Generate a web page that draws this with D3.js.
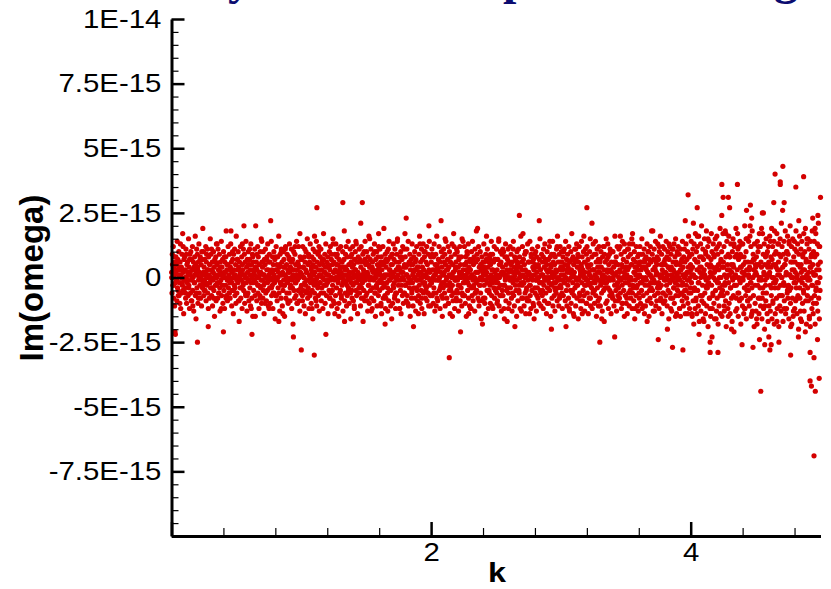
<!DOCTYPE html>
<html>
<head>
<meta charset="utf-8">
<script src="https://cdn.jsdelivr.net/npm/d3@7"></script>
<style>
  body { margin: 0; background: #fff; }
  svg { display: block; }
</style>
</head>
<body>
<div id="chart"></div>
<script>

// Im(omega) values read off the plot, in units of 1E-16, sampled evenly along k
// one list per unit interval of k (first branch)
var imK0 = [
  2,-6,9,0,-3,12,-8,4,1,-11,6,3,-2,8,-1,5,-9,14,-4,7,
  -5,1,10,-7,3,-2,6,13,-12,0,4,-6,9,-3,17,-5,2,-14,7,-1,
  8,-4,3,-8,11,0,-10,5,-2,6,1,-7,15,-3,4,-12,9,2,-6,10,
  -1,7,-9,3,12,-5,0,6,-13,4,-2,8,1,-7,5,-16,2,11,-4,9,
  3,-10,6,-1,13,-6,2,-3,8,-8,0,5,-11,7,1,-4,19,-2,10,-7,
  4,-1,7,-5,2,12,-9,6,0,-3,11,-6,3,-12,8,1,-8,5,-2,15,
  -4,9,0,-7,3,6,-11,2,-1,10,-5,4,-15,7,1,-3,8,-9,13,0,
  5,-2,-8,11,3,-6,1,9,-4,-13,6,2,-1,14,-7,4,-3,7,-10,1,
  10,-5,2,-12,6,0,-3,8,18,-7,3,-1,-9,5,12,-4,1,-6,9,-2,
  -8,4,13,-1,6,-11,2,-5,7,0,-14,9,3,-3,11,-7,1,5,-10,16,
  0,-6,7,3,-2,10,-9,4,-17,6,1,-4,12,-8,2,-1,8,-12,5,3,
  -3,11,-5,1,9,-10,6,0,-7,14,-2,4,-13,7,2,-6,10,-1,-9,5,
  7,-4,1,-11,13,-2,5,-8,0,9,-15,3,6,-5,2,-1,11,-7,4,20,
  -2,6,-9,3,0,12,-6,8,-3,-12,5,1,-7,10,-4,2,15,-10,6,-1,
  4,-8,10,-3,1,-14,7,-2,5,11,-6,0,-9,3,8,-5,13,-1,-11,6,
  1,9,-4,6,-10,2,-1,14,-7,3,-3,8,-12,5,0,10,-6,-2,7,-16,
  -7,3,12,-1,5,-9,0,8,-4,2,16,-6,4,-13,9,-2,1,-8,11,-3,
  6,-11,2,-5,10,-1,7,-3,-15,4,1,12,-8,0,5,-6,9,-2,3,-10,
  -1,8,-6,13,2,-9,4,-3,0,11,-12,6,-4,7,-18,1,10,-5,3,-8,
  9,-2,5,-7,1,14,-10,3,-1,6,-5,12,0,-9,4,-13,8,2,-4,7
];
var imK1 = [
  -3,7,1,-9,12,-5,4,0,-11,8,-2,6,-14,3,10,-6,2,-1,15,-8,
  5,-4,9,-12,1,6,-7,13,-2,0,-10,4,8,-5,2,-16,11,-1,7,-3,
  -6,2,10,-8,4,-1,14,-11,6,0,-3,9,-7,3,12,-13,5,-2,8,1,
  11,-9,3,-4,7,0,-12,5,17,-6,2,-1,9,-10,4,13,-3,-7,6,1,
  -2,8,-14,4,1,-5,10,-8,3,12,-1,-6,7,-11,0,5,-3,15,-9,2,
  6,-1,-10,9,3,-7,13,0,-4,8,-12,2,5,-2,11,-15,7,1,-6,4,
  -5,12,2,-8,6,-3,0,10,-13,4,-1,7,18,-9,3,-6,9,-2,1,-11,
  3,-7,8,-1,14,-4,5,-10,2,0,11,-6,-16,6,-2,9,-8,4,12,-3,
  -9,5,1,-12,7,-2,10,3,-5,13,-7,0,6,-14,2,8,-1,-4,11,-6,
  7,-3,-11,4,12,-8,1,6,-2,9,-17,3,-5,10,0,-9,14,-1,5,-7,
  1,10,-6,2,-13,8,-3,5,16,-10,4,-1,7,-5,11,0,-8,3,-12,6,
  -4,9,3,-9,0,13,-6,2,-15,7,1,-3,10,-11,5,-2,8,-7,12,4,
  2,-5,11,-1,6,-10,8,-14,3,0,-4,12,-8,5,19,-3,1,-7,9,-12,
  -8,4,6,-2,10,-6,-13,7,1,-9,14,3,-5,-1,8,-11,5,2,-16,9,
  5,-10,1,13,-4,7,-2,-8,11,0,-12,6,3,-6,9,-1,15,-9,4,-3,
  -1,6,-12,3,8,-5,10,-14,2,-3,7,-7,12,0,-10,4,-1,11,-6,17,
  8,-3,4,-9,1,11,-7,5,-2,14,-11,0,6,-4,9,-15,3,-1,7,-8,
  -6,13,-2,5,-11,2,8,-4,0,10,-8,6,-13,3,-1,12,-5,4,-9,1,
  4,-7,9,-3,16,-1,-10,6,2,-5,11,-12,0,7,-2,13,-6,3,-14,8,
  -2,10,-8,1,6,-4,12,-9,5,0,-6,9,-11,3,14,-3,2,-7,8,-1
];
var imK2 = [
  6,-2,11,-7,3,0,-10,8,-4,13,1,-13,5,-1,9,-6,2,16,-8,4,
  -9,3,7,-1,12,-5,0,-12,6,2,-3,10,-7,4,-15,8,1,-4,11,-2,
  2,-6,9,-11,5,14,-1,3,-8,0,7,-3,12,-10,4,-5,10,-2,-14,6,
  -4,8,1,-7,13,-3,5,-9,2,17,-6,0,-12,9,3,-1,6,-8,11,-5,
  10,-1,-6,4,-13,7,2,-3,12,-9,5,0,-4,8,-11,15,1,-7,3,-2,
  -7,5,12,-2,0,-10,8,3,-15,6,-1,9,-5,2,13,-8,4,-3,-11,7,
  3,-12,6,-4,10,1,-7,14,-1,-9,5,-3,8,0,-13,11,-6,2,-2,18,
  -5,9,-1,7,-8,2,12,-11,4,-3,0,10,-6,5,-16,3,8,-1,-9,6,
  1,-8,13,-3,6,-10,3,-1,9,-14,7,2,-5,11,-2,4,-12,6,0,-6,
  8,-3,-10,5,1,14,-7,3,-2,9,-12,0,6,-4,12,-8,2,-15,7,-1,
  -2,11,-6,3,-9,7,0,-4,15,-11,5,1,-7,10,-3,6,-13,2,9,-5,
  4,-7,2,10,-12,1,-3,8,-1,13,-9,5,-5,3,-17,7,0,11,-6,2,
  -10,6,-1,12,-4,3,9,-8,0,-13,6,2,-2,14,-7,4,-11,8,1,-3,
  7,-5,3,-15,10,-1,5,-9,2,11,-3,-6,8,0,-12,4,16,-2,6,-8,
  -3,12,-8,1,7,-2,-11,5,9,-6,3,-14,0,10,-4,2,-9,13,-1,6,
  2,-9,6,-3,14,-7,1,-12,8,0,-5,11,-1,4,-10,7,3,-16,9,-4,
  -6,4,10,-1,-13,8,2,-4,12,-8,5,0,-10,7,-2,15,-5,3,-11,1,
  9,-2,-7,6,1,-12,11,-3,4,-9,13,-1,7,-6,0,-14,5,10,-4,2,
  -1,7,-10,3,12,-5,0,8,-15,4,-3,9,-8,2,14,-11,6,-2,1,-7,
  5,-13,8,-2,3,-6,11,0,-9,16,-4,6,-1,-11,9,3,-7,12,-3,4
];
var imK3 = [
  -4,10,-1,6,-12,3,8,-7,1,-15,11,-2,5,-9,14,0,-5,7,-11,2,
  9,-3,4,-8,12,-1,-13,6,2,-5,10,-10,3,17,-6,1,-2,8,-14,5,
  -7,2,11,-4,0,-11,7,-1,13,-8,4,-3,9,-16,6,-1,12,-6,3,-9,
  1,-12,5,14,-2,8,-9,3,-5,10,0,-7,6,-13,2,11,-3,-1,9,-10,
  12,-6,-1,7,-14,4,2,-8,10,-3,15,-11,5,0,-4,8,-12,3,-2,13,
  -5,3,9,-10,1,-2,14,-7,6,-15,0,11,-4,4,-9,7,-1,12,-8,2,
  6,-11,-3,10,4,-6,1,-13,8,-1,12,-5,3,-17,9,-2,6,0,-10,15,
  -2,7,-9,2,13,-4,-12,5,0,9,-7,11,-1,3,-14,6,-6,10,2,-8,
  10,-1,4,-11,6,-3,16,-9,1,-5,8,-13,2,12,-2,-7,5,-4,11,0,
  -8,3,12,-6,-1,9,-12,5,-3,14,-10,0,7,-5,2,-15,10,1,-7,4,
  3,-10,6,1,-14,11,-2,8,-6,4,-11,13,0,-3,9,-8,5,-1,15,-12,
  -6,13,-3,7,-9,2,10,-16,4,-1,6,-7,12,-4,1,-11,8,3,-13,9,
  5,-8,1,12,-2,-10,6,3,-5,15,-12,0,9,-7,4,-1,11,-14,7,-3,
  -11,4,8,-1,-6,13,-9,2,10,-3,5,-15,7,1,-8,12,-2,6,-10,18,
  0,9,-5,3,-13,7,-1,11,-7,4,-2,14,-11,6,2,-9,8,-4,13,-6,
  7,-2,-12,10,-4,1,16,-8,5,-3,9,-14,3,-6,12,0,-10,6,-1,11,
  -9,5,2,-7,14,-3,8,-11,1,10,-5,4,-16,7,-1,12,-6,3,-12,9,
  4,-13,11,-1,-8,6,3,-4,13,-10,0,8,-2,15,-7,5,-14,1,10,-5,
  -3,12,-7,2,9,-12,5,-1,-15,11,3,-6,7,-9,14,-2,4,-11,8,1,
  11,-5,6,-14,1,13,-3,-8,7,-1,10,-10,4,16,-6,2,-12,9,-4,5
];
var imK4 = [
  -6,14,-2,9,-15,4,11,-9,1,-18,13,-4,7,-12,17,0,-8,10,-14,3,
  12,-5,6,-11,16,-2,-17,8,2,-7,13,-13,4,20,-9,1,-3,11,-16,7,
  -10,3,15,-6,0,-14,9,-1,18,-11,5,-4,12,-19,8,-2,14,-8,4,-12,
  2,-15,7,17,-3,10,-12,4,-7,13,0,-10,8,-16,3,15,-5,-1,11,-13,
  16,-8,-2,9,-18,5,3,-11,13,-4,19,-14,6,0,-6,10,-15,4,-3,17,
  -7,4,12,-13,1,-3,18,-9,8,-19,0,14,-6,5,-12,9,-2,16,-10,3,
  8,-14,-4,13,5,-8,2,-17,10,-1,15,-7,4,-21,12,-3,8,0,-13,19,
  -3,9,-12,3,17,-6,-15,7,0,12,-9,14,-2,4,-18,8,-8,13,2,-11,
  13,-1,5,-14,8,-4,20,-12,1,-7,10,-16,3,15,-3,-9,6,-5,14,0,
  -11,4,16,-8,-2,12,-15,6,-4,18,-13,0,9,-7,3,-19,13,1,-10,5,
  4,-13,8,1,-18,14,-3,10,-8,5,-14,17,0,-4,12,-11,6,-1,19,-16,
  -8,17,-4,9,-12,2,13,-20,5,-1,8,-9,15,-6,1,-14,10,4,-17,12,
  6,-11,1,16,-3,-13,8,4,-7,19,-16,0,12,-9,5,-2,14,-18,9,-4,
  -14,5,10,-1,-8,17,-12,3,13,-4,6,-19,9,1,-11,15,-3,8,-13,21,
  0,12,-7,4,-17,9,-2,14,-9,5,-3,18,-14,7,2,-12,10,-6,16,-8,
  9,-3,-16,13,-5,1,20,-10,6,-4,12,-18,3,-8,15,0,-13,8,-2,14,
  -12,6,2,-9,18,-4,10,-14,1,13,-7,5,-20,9,-1,16,-8,4,-16,11,
  5,-17,14,-2,-10,8,3,-5,17,-13,0,10,-3,19,-9,6,-18,1,13,-7,
  -4,15,-9,2,11,-15,6,-1,-19,14,4,-8,9,-12,18,-3,5,-14,10,1,
  14,-7,8,-18,1,17,-4,-10,9,-2,13,-13,5,21,-8,3,-16,12,-5,6
];

// second branch: mostly near zero, a few in the thin fringe of the band
var imK0b = [
  0,5,-3,8,-21,2,-1,6,-7,4,-10,1,3,-2,12,-5,0,-6,9,-1,
  2,-4,7,1,-9,0,-11,3,-2,16,-6,1,4,-8,0,7,-1,10,-3,2,
  -5,1,-2,9,3,-19,0,5,-1,11,-4,2,-8,0,6,-3,13,1,-6,-2,
  4,-12,1,0,-3,8,2,-8,5,-1,0,-6,3,18,-2,10,-5,1,-4,0,
  -1,7,3,-9,0,2,-4,13,-2,20,1,-6,0,-7,5,-1,11,3,-12,0,
  8,-2,1,-15,4,9,-3,0,2,-8,-1,14,6,-5,1,-10,0,7,-2,3,
  -12,0,22,-4,2,-6,1,-1,8,-7,3,0,-17,5,-2,10,1,-14,4,-3,
  11,-1,0,-9,2,7,-4,6,-1,3,-23,0,12,-2,1,-10,5,0,17,-6
];
var imK1b = [
  1,-7,4,0,11,-3,2,-5,-1,8,-6,0,3,-12,5,1,16,-2,-9,0,
  -4,10,1,-2,-6,6,0,7,-3,2,-22,1,-1,5,4,-8,0,9,-5,13,
  2,-14,0,5,9,-1,-10,3,0,-7,6,-2,1,-17,4,12,-3,0,-5,1,
  -1,8,-5,2,0,-11,3,14,-2,1,-6,6,0,21,-4,-1,-8,2,7,0,
  6,-9,1,-3,15,0,-13,4,2,-1,10,-6,0,-4,3,17,-2,1,-11,5,
  -2,6,0,-18,7,1,-4,11,-1,3,-5,0,9,-3,2,-7,-6,0,14,1,
  4,-12,-1,8,0,2,-6,5,-3,23,1,-10,0,6,-2,5,-5,1,-19,3,
  0,7,-4,-1,-14,2,13,0,-8,4,1,10,-3,-5,0,2,-6,20,-1,-11
];
var imK2b = [
  -2,9,0,-6,3,1,-11,5,-1,7,0,-4,22,-2,-8,1,6,15,-3,0,
  3,-10,1,6,-5,0,-15,2,12,-1,4,-9,0,-3,8,1,-21,2,-6,14,
  0,-7,5,1,10,-2,-14,0,3,-12,1,7,-4,0,-6,6,2,19,-1,-9,
  -3,5,0,-18,2,4,-8,1,16,-2,0,-5,7,9,-1,-11,3,0,7,-5,
  1,-10,-2,14,0,5,-7,2,11,-3,-16,0,1,8,-4,-12,0,3,5,-1,
  -6,11,0,-19,2,-1,6,4,-5,0,1,-13,3,17,-2,0,10,-5,-8,1,
  2,-14,-3,9,0,6,-11,1,5,-1,-7,0,4,22,-2,-6,1,-5,8,0,
  -1,6,3,-10,0,-2,14,5,-20,1,0,9,-4,-5,2,12,-1,0,-8,6
];
var imK3b = [
  1,-6,4,10,-2,0,-19,3,5,-1,-12,2,0,7,-5,1,-15,6,11,-3,
  -1,8,0,-7,2,4,-14,1,16,-3,0,-10,5,4,-2,1,-8,0,21,-6,
  3,-5,-1,9,0,2,-11,4,7,-2,-16,0,1,12,-4,0,-4,3,8,-1,
  -5,10,2,-7,0,1,-23,6,5,-3,-9,0,2,16,-1,-10,4,0,13,-2,
  0,-8,3,11,-1,-5,0,5,17,-4,2,-12,1,4,-3,0,-6,6,9,-2,
  4,-11,-1,6,0,3,-17,2,10,-5,1,-4,0,18,-2,-13,3,1,5,-6,
  -3,12,0,-9,1,5,-6,2,7,-1,0,-20,4,13,-2,-8,1,0,11,-4,
  2,-15,6,9,-1,0,-12,3,6,-3,1,-7,0,22,-5,2,-14,-1,8,0
];
var imK4b = [
  3,-14,1,21,-5,0,-9,6,16,-2,-22,4,0,8,-7,2,-17,1,10,-4,
  -3,15,0,-8,5,1,-23,-6,9,2,-1,-16,4,12,-2,0,-7,7,24,-5,
  6,-11,-2,17,0,3,-15,1,8,-4,-20,0,5,13,-3,1,-8,8,11,-6,
  -1,9,4,-26,0,2,-12,6,15,-5,-9,1,3,20,-2,-14,0,7,7,-3,
  2,-16,5,12,-1,-8,0,4,25,-6,1,-11,-3,9,0,5,-23,2,14,-4,
  7,-10,0,18,-2,4,-17,1,13,-7,3,-7,0,26,-3,-12,5,1,10,-5,
  -4,14,1,-19,0,6,-15,3,11,-2,0,-8,5,22,-4,-13,2,0,9,-6,
  3,-21,7,15,-1,0,-16,4,8,-3,2,-10,1,19,-5,3,-24,-2,12,0
];

// scattered points away from the band: [k, Im(omega) in 1E-16]
var outliers = [
  [0.03,-22],[0.2,-25],[0.4,-21],[0.62,-22],[1.0,-28],[1.12,27],[1.1,-30],
  [1.32,29],[1.47,29],[2.14,-31],[2.68,24],[3.2,27],[3.3,-25],[3.75,-24],
  [3.86,-27],[3.94,-28],[3.98,32],[4.05,27],[4.15,-25],[4.15,-29],[4.21,-29],
  [4.24,36],[4.25,31],[4.29,31],[4.3,27],[4.36,36],[4.43,26],[4.46,28],
  [4.47,23],[4.48,-27],[4.53,-24],[4.54,-44],[4.56,25],[4.57,-26],[4.61,-28],
  [4.62,-26],[4.64,29],[4.65,40],[4.68,-25],[4.69,37],[4.69,36],[4.71,43],
  [4.72,29],[4.77,-30],[4.81,35],[4.83,-23],[4.87,39],[4.92,-29],[4.92,-40],
  [4.93,-42],[4.94,23],[4.95,-31],[4.95,-69],[4.96,-44],[4.98,24],[4.99,-39],[5.0,31]
];

var yTickValues = [-10, -7.5, -5, -2.5, 0, 2.5, 5, 7.5, 10];   // in 1E-15
var yTickLabels = ["", "-7.5E-15", "-5E-15", "-2.5E-15", "0", "2.5E-15", "5E-15", "7.5E-15", "1E-14"];
var xTickValues = [0, 2, 4];
var xTickLabels = ["", "2", "4"];

var width = 831, height = 589;
var font = "'Liberation Sans', Arial, Helvetica, sans-serif";

// collect points; each list covers one unit of k
var points = [];
function addBranch(lists, shift) {
  lists.forEach(function(list, j) {
    for (var i = 0; i < list.length; i++) {
      points.push({ k: j + (i + shift) / list.length, im: list[i] * 1e-16 });
    }
  });
}
addBranch([imK0, imK1, imK2, imK3, imK4], 0.5);
addBranch([imK0b, imK1b, imK2b, imK3b, imK4b], 0.3);
outliers.forEach(function(p) { points.push({ k: p[0], im: p[1] * 1e-16 }); });

var svg = d3.select("#chart")
  .append("svg")
  .attr("width", width)
  .attr("height", height);

// bits of the slide title, cut off at the top edge as in the original
svg.append("g")
  .attr("font-family", "'Liberation Serif', 'Times New Roman', serif")
  .attr("font-weight", "bold")
  .attr("font-size", 48)
  .attr("fill", "#0b0b70")
  .selectAll("text")
  .data([["y", 228], ["p", 503], ["g", 774]])
  .enter().append("text")
    .attr("x", function(d) { return d[1]; })
    .attr("y", -6)
    .text(function(d) { return d[0]; });

var x = d3.scaleLinear().domain([0, 5]).range([171.5, 820.5]);
var y = d3.scaleLinear().domain([-1e-14, 1e-14]).range([536, 19]);

// scatter
svg.append("g")
  .selectAll("circle")
  .data(points)
  .enter().append("circle")
    .attr("cx", function(d) { return x(d.k); })
    .attr("cy", function(d) { return y(d.im); })
    .attr("r", 2.6)
    .attr("fill", "#d40000");

// y axis, ticks pointing into the plot
var yMinor = d3.range(-100, 101, 5).filter(function(v) { return v % 25 != 0; })
  .map(function(v) { return v * 1e-16; });

svg.append("g")
  .attr("transform", "translate(171.5,0)")
  .call(d3.axisLeft(y).tickValues(yMinor).tickSize(-7).tickFormat(""))
  .call(function(g) { g.select(".domain").remove(); })
  .selectAll(".tick line").attr("stroke-width", 1.2);

var gy = svg.append("g")
  .attr("transform", "translate(171.5,0)")
  .call(d3.axisLeft(y)
    .tickValues(yTickValues.map(function(v) { return v * 1e-15; }))
    .tickFormat(function(d, i) { return yTickLabels[i]; })
    .tickSize(-13)
    .tickSizeOuter(0)
    .tickPadding(9));
gy.select(".domain").attr("stroke-width", 3);
gy.selectAll(".tick line").attr("stroke-width", 2.5);
gy.selectAll("text")
  .attr("font-family", font)
  .attr("font-size", 26)
  .attr("fill", "#000")
  .attr("transform", "scale(1.13,1)");

// x axis
var xMinor = d3.range(4, 50, 4).filter(function(v) { return v % 20 != 0; })
  .map(function(v) { return v / 10; });

svg.append("g")
  .attr("transform", "translate(0,536)")
  .call(d3.axisBottom(x).tickValues(xMinor).tickSize(-8).tickFormat(""))
  .call(function(g) { g.select(".domain").remove(); })
  .selectAll(".tick line").attr("stroke-width", 1.2);

var gx = svg.append("g")
  .attr("transform", "translate(0,536)")
  .call(d3.axisBottom(x)
    .tickValues(xTickValues)
    .tickFormat(function(d, i) { return xTickLabels[i]; })
    .tickSize(-14)
    .tickSizeOuter(0)
    .tickPadding(7));
gx.select(".domain").attr("stroke-width", 3);
gx.selectAll(".tick line").attr("stroke-width", 2.5);
gx.selectAll("text")
  .attr("font-family", font)
  .attr("font-size", 26)
  .attr("fill", "#000")
  .attr("transform", "scale(1.13,1)");

// axis titles
svg.append("text")
  .attr("transform", "translate(497,582) scale(1.2,1)")
  .attr("text-anchor", "middle")
  .attr("font-family", font)
  .attr("font-weight", "bold")
  .attr("font-size", 27)
  .text("k");

svg.append("text")
  .attr("transform", "translate(43,278) rotate(-90)")
  .attr("text-anchor", "middle")
  .attr("font-family", font)
  .attr("font-weight", "bold")
  .attr("font-size", 33)
  .text("Im(omega)");

</script>
</body>
</html>
